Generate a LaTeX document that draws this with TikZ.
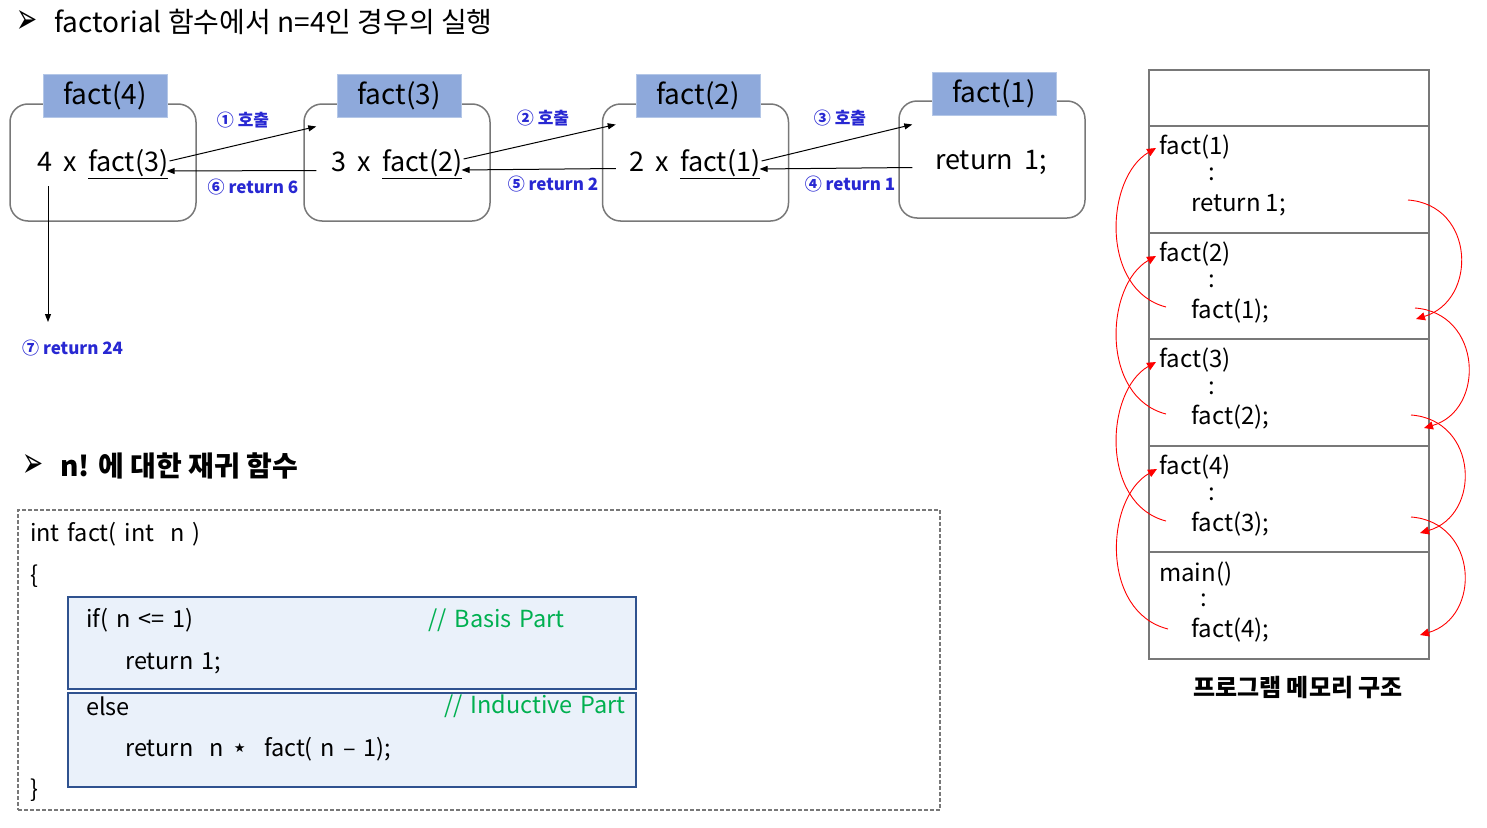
\documentclass[tikz,border=0pt]{standalone}
\usepackage{fontspec}
\setmainfont{Noto Sans CJK KR}
\newfontfamily\djv{DejaVu Sans}
\usetikzlibrary{arrows.meta,calc}
\definecolor{labelblue}{RGB}{142,169,219}
\definecolor{labelborder}{RGB}{180,199,231}
\definecolor{boxgray}{RGB}{120,120,120}
\definecolor{callblue}{RGB}{40,40,210}
\definecolor{codegreen}{RGB}{0,176,80}
\definecolor{codeborder}{RGB}{47,82,143}
\definecolor{codefill}{RGB}{234,241,250}
\definecolor{memgray}{RGB}{120,120,120}
\newcommand{\gap}{\hspace{11pt}}
\newcommand{\cgap}{\hspace{8pt}}
\newcommand{\mgap}{\hspace{5pt}}
\begin{document}
\begin{tikzpicture}[x=1pt,y=-1pt,
  frame/.style={draw=boxgray, line width=1.5pt, rounded corners=18pt, minimum width=186pt, minimum height=117pt, fill=white, inner sep=0},
  fname/.style={fill=labelblue, draw=labelborder, line width=1pt, minimum width=124pt, minimum height=43pt, font=\fontsize{28}{30}\selectfont, inner sep=0},
  body/.style={font=\fontsize{27}{30}\selectfont, inner sep=1pt},
  lbl/.style={text=callblue, font=\fontsize{17}{20}\selectfont\bfseries, inner sep=0},
  callarrow/.style={-{Triangle[length=8pt,width=6pt]}, line width=1pt, black},
  retarrow/.style={red, line width=0.9pt, -{Triangle[length=9pt,width=8pt]}},
  code/.style={font=\fontsize{23.5}{26}\selectfont, inner sep=0, anchor=west},
  comment/.style={code, text=codegreen},
  codebox/.style={draw=codeborder, line width=1.5pt, fill=codefill, minimum width=568pt, inner sep=0},
  memsec/.style={draw=memgray, line width=2pt, minimum width=280pt, minimum height=106.5pt, inner sep=0, anchor=north west},
  mem/.style={font=\fontsize{24}{26}\selectfont, inner sep=0, anchor=west},
  head/.style={font=\fontsize{28}{30}\selectfont, inner sep=0, anchor=west},
  bullet/.style={font=\djv\fontsize{24}{28}\selectfont, inner sep=0}
]
\useasboundingbox (0,0) rectangle (1487,827);

% ---- titles
\node[bullet] (bul1) at (27,22) {\scalebox{1.05}[1.8]{➢}};
\node[head] (title1) at (54,22) {factorial 함수에서 n=4인 경우의 실행};
\node[bullet] (bul2) at (33,466) {\scalebox{1.05}[1.8]{➢}};
\node[head, font=\fontsize{28}{30}\selectfont\bfseries] (title2) at (60,466) {n! 에 대한 재귀 함수};

% ---- call frames
\node[frame] (b4) at (103,162.5) {};
\node[fname] (n4) at (105,95.5) {fact(4)};
\node[body] (t4) at (103,164) {4\gap x\gap\underline{fact(3)}};

\node[frame] (b3) at (397,162.5) {};
\node[fname] (n3) at (399,95.5) {fact(3)};
\node[body] (t3) at (397,164) {3\gap x\gap\underline{fact(2)}};

\node[frame] (b2) at (695.5,162.5) {};
\node[fname] (n2) at (698,95.5) {fact(2)};
\node[body] (t2) at (695,164) {2\gap x\gap\underline{fact(1)}};

\node[frame] (b1) at (992,159.5) {};
\node[fname] (n1) at (994,93.5) {fact(1)};
\node[body] (t1) at (991,162) {return\gap 1;};

% call / return arrows
\coordinate (c1s) at ($(t4.east)+(0,-3)$);
\coordinate (c1e) at ($(b3.west)+(13,-36)$);
\coordinate (r6s) at ($(b3.west)+(13,8)$);
\coordinate (r6e) at ($(t4.east)+(-3,7)$);
\draw[callarrow] (c1s) -- (c1e);
\draw[callarrow] (r6s) -- (r6e);

\coordinate (c2s) at ($(t3.east)+(0,-5)$);
\coordinate (c2e) at ($(b2.west)+(14,-38)$);
\coordinate (r5s) at ($(b2.west)+(14,6)$);
\coordinate (r5e) at ($(t3.east)+(-2,6)$);
\draw[callarrow] (c2s) -- (c2e);
\draw[callarrow] (r5s) -- (r5e);

\coordinate (c3s) at ($(t2.east)+(0,-3)$);
\coordinate (c3e) at ($(b1.west)+(14,-35)$);
\coordinate (r4s) at ($(b1.west)+(14,8)$);
\coordinate (r4e) at ($(t2.east)+(-2,5)$);
\draw[callarrow] (c3s) -- (c3e);
\draw[callarrow] (r4s) -- (r4e);

\node[lbl] (l1) at (243,120) {① 호출};
\node[lbl] (l6) at (253,187) {⑥ return 6};
\node[lbl] (l2) at (543,118) {② 호출};
\node[lbl] (l5) at (553,184) {⑤ return 2};
\node[lbl] (l3) at (840,118) {③ 호출};
\node[lbl] (l4) at (850,184) {④ return 1};

\coordinate (v7s) at (48,186);
\coordinate (v7e) at (48,322);
\draw[callarrow] (v7s) -- (v7e);
\node[lbl, anchor=west] (l7) at (22,348) {⑦ return 24};

% ---- code block
\node[draw=boxgray, dashed, dash pattern=on 4pt off 2pt, line width=1.2pt, minimum width=922pt, minimum height=300pt, inner sep=0] (codeframe) at (479,660) {};
\node[codebox, minimum height=92pt] (basis) at (352,643) {};
\node[codebox, minimum height=94pt] (induct) at (352,740) {};

\node[code] (cl1) at (30,534) {int\cgap fact(\cgap int\cgap\cgap n\cgap )};
\node[code] (cl2) at (30,576) {\{};
\node[code] (cl3) at (86,620) {if(\cgap n\cgap <=\cgap 1)};
\node[comment] (cm1) at (428,620) {//\cgap Basis\cgap Part};
\node[code] (cl4) at (125,663) {return\cgap 1;};
\node[code] (cl5) at (86,706) {else};
\node[comment, anchor=east] (cm2) at (626,706) {//\cgap Inductive\cgap Part};
\node[code] (cl6) at (125,749) {return\cgap\cgap n\cgap {\djv\fontsize{26}{26}\selectfont ⋆}\cgap\cgap fact(\cgap n\cgap –\cgap 1);};
\node[code] (cl7) at (30,790) {\}};

% ---- memory structure
\node[memsec, minimum height=56pt] (top) at (1148,69) {};
\node[memsec] (s1) at (1148,125) {};
\node[memsec] (s2) at (1148,231.5) {};
\node[memsec] (s3) at (1148,338) {};
\node[memsec] (s4) at (1148,444.5) {};
\node[memsec] (s5) at (1148,551) {};

\node[mem] (m1a) at (1159,147) {fact(1)};
\node[mem] (m1b) at (1208,174) {:};
\node[mem] (m1c) at (1191,205) {return\mgap 1;};
\node[mem] (m2a) at (1159,254) {fact(2)};
\node[mem] (m2b) at (1208,281) {:};
\node[mem] (m2c) at (1191,311) {fact(1);};
\node[mem] (m3a) at (1159,360) {fact(3)};
\node[mem] (m3b) at (1208,388) {:};
\node[mem] (m3c) at (1191,417) {fact(2);};
\node[mem] (m4a) at (1159,467) {fact(4)};
\node[mem] (m4b) at (1208,494) {:};
\node[mem] (m4c) at (1191,524) {fact(3);};
\node[mem] (m5a) at (1159,574) {main()};
\node[mem] (m5b) at (1200,600) {:};
\node[mem] (m5c) at (1191,630) {fact(4);};

\node[font=\fontsize{24}{26}\selectfont\bfseries, inner sep=0] (caption) at (1298,688) {프로그램 메모리 구조};

% red call curves (left)
\coordinate (a1s) at (1166,307); \coordinate (a1e) at (1156,148);
\coordinate (a2s) at (1166,414); \coordinate (a2e) at (1156,256);
\coordinate (a3s) at (1166,521); \coordinate (a3e) at (1156,362);
\coordinate (a4s) at (1168,629); \coordinate (a4e) at (1157,469);
\draw[retarrow] (a1s) .. controls (1100,290) and (1105,178) .. (a1e);
\draw[retarrow] (a2s) .. controls (1100,397) and (1105,285) .. (a2e);
\draw[retarrow] (a3s) .. controls (1100,504) and (1105,391) .. (a3e);
\draw[retarrow] (a4s) .. controls (1100,612) and (1105,498) .. (a4e);

% red return curves (right)
\coordinate (b1s) at (1408,200); \coordinate (b1e) at (1416,319);
\coordinate (b2s) at (1415,308); \coordinate (b2e) at (1424,428);
\coordinate (b3s) at (1411,415); \coordinate (b3e) at (1420,533);
\coordinate (b4s) at (1411,517); \coordinate (b4e) at (1420,635);
\draw[retarrow] (b1s) .. controls (1475,205) and (1478,300) .. (b1e);
\draw[retarrow] (b2s) .. controls (1482,313) and (1486,410) .. (b2e);
\draw[retarrow] (b3s) .. controls (1478,420) and (1482,515) .. (b3e);
\draw[retarrow] (b4s) .. controls (1478,522) and (1482,617) .. (b4e);
\end{tikzpicture}
\end{document}
